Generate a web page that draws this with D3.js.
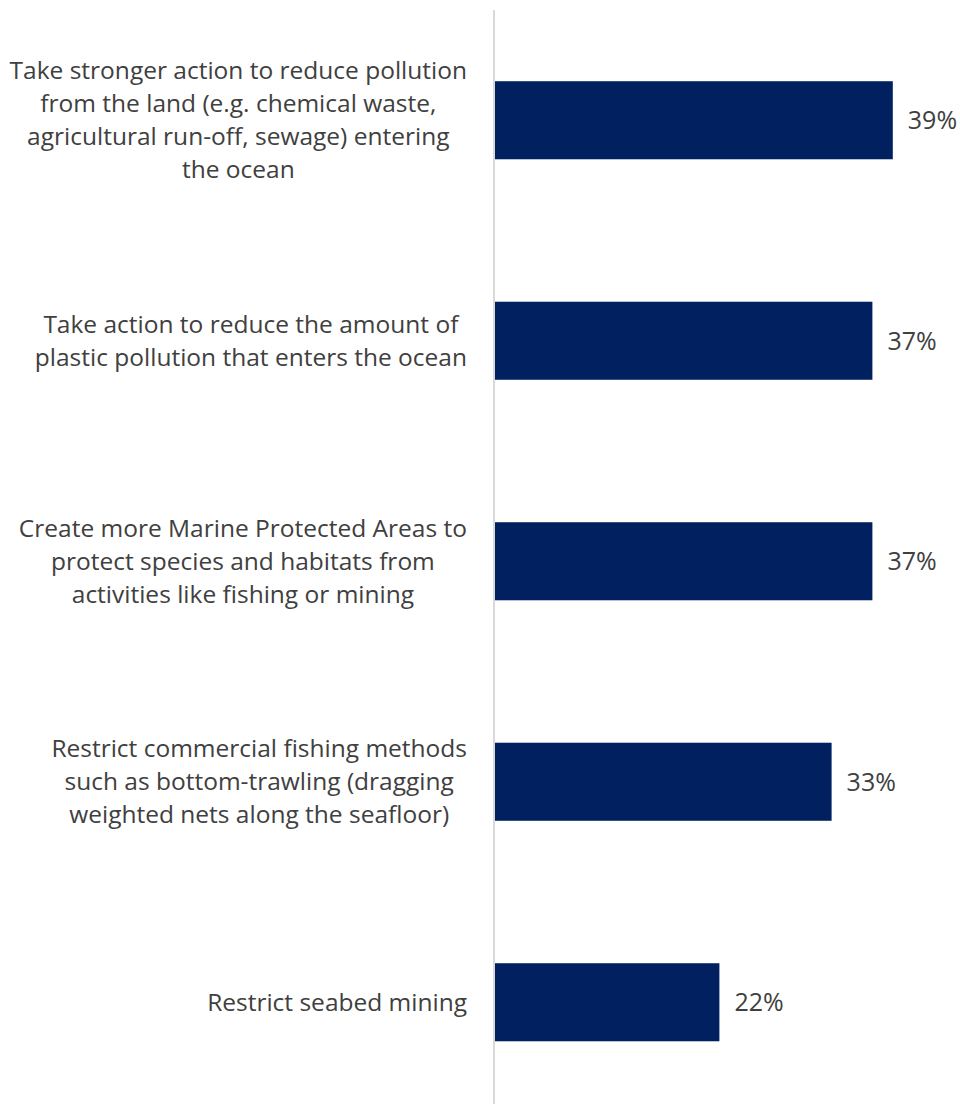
<!DOCTYPE html>
<html>
<head>
<meta charset="utf-8">
<script src="https://cdn.jsdelivr.net/npm/d3@7"></script>
<style>
  html, body { margin: 0; padding: 0; background: #ffffff; }
  svg { display: block; }
</style>
</head>
<body>
<svg id="chart" width="960" height="1104"></svg>
<script>
// Survey options (each entry is a list of wrapped lines) and share of respondents (%)
const categories = [
  ["Take stronger action to reduce pollution", "from the land (e.g. chemical waste,", "agricultural run-off, sewage) entering", "the ocean"],
  ["Take action to reduce the amount of", "plastic pollution that enters the ocean"],
  ["Create more Marine Protected Areas to", "protect species and habitats from", "activities like fishing or mining"],
  ["Restrict commercial fishing methods", "such as bottom-trawling (dragging", "weighted nets along the seafloor)"],
  ["Restrict seabed mining"]
];
const values = [39, 37, 37, 33, 22];
const valueLabels = ["39%", "37%", "37%", "33%", "22%"];

const svg = d3.select("#chart");
const axisX = 495;
const labelRight = 467;
const lineHeight = 33;
const textColor = "#404040";
const font = "'Open Sans', sans-serif";

const x = d3.scaleLinear().domain([0, 45]).range([axisX, axisX + 459]);
const y = d3.scaleBand()
  .domain(d3.range(values.length))
  .range([10, 10 + 220.5 * values.length])
  .paddingInner(0.646)
  .paddingOuter(0.323);

// Bars
svg.append("g").selectAll("rect")
  .data(values)
  .join("rect")
  .attr("x", x(0))
  .attr("y", (d, i) => y(i))
  .attr("width", d => x(d) - x(0))
  .attr("height", y.bandwidth())
  .attr("fill", "#002060");

// Vertical category axis line
svg.append("line")
  .attr("x1", axisX - 1).attr("x2", axisX - 1)
  .attr("y1", 10).attr("y2", 1104)
  .attr("stroke", "#d9d9d9")
  .attr("stroke-width", 2);

// Value labels
svg.append("g").selectAll("text")
  .data(values)
  .join("text")
  .attr("x", d => x(d) + 15)
  .attr("y", (d, i) => y(i) + y.bandwidth() / 2)
  .attr("dy", "0.35em")
  .attr("fill", textColor)
  .style("font-family", font)
  .style("font-size", "25px")
  .text((d, i) => valueLabels[i]);

// Category labels: each block centred on its own widest line, block right-aligned to the axis gap
const catG = svg.append("g");
categories.forEach((lines, i) => {
  const g = catG.append("g");
  const texts = lines.map(l => g.append("text")
    .attr("fill", textColor)
    .style("font-family", font)
    .style("font-size", "24.5px")
    .attr("text-anchor", "middle")
    .text(l));
  const maxW = d3.max(texts, t => t.node().getComputedTextLength());
  const cx = labelRight - maxW / 2;
  const cy = y(i) + y.bandwidth() / 2;
  texts.forEach((t, j) => {
    t.attr("x", cx)
     .attr("y", cy + (j - (lines.length - 1) / 2) * lineHeight)
     .attr("dy", "0.35em");
  });
});
</script>
</body>
</html>
